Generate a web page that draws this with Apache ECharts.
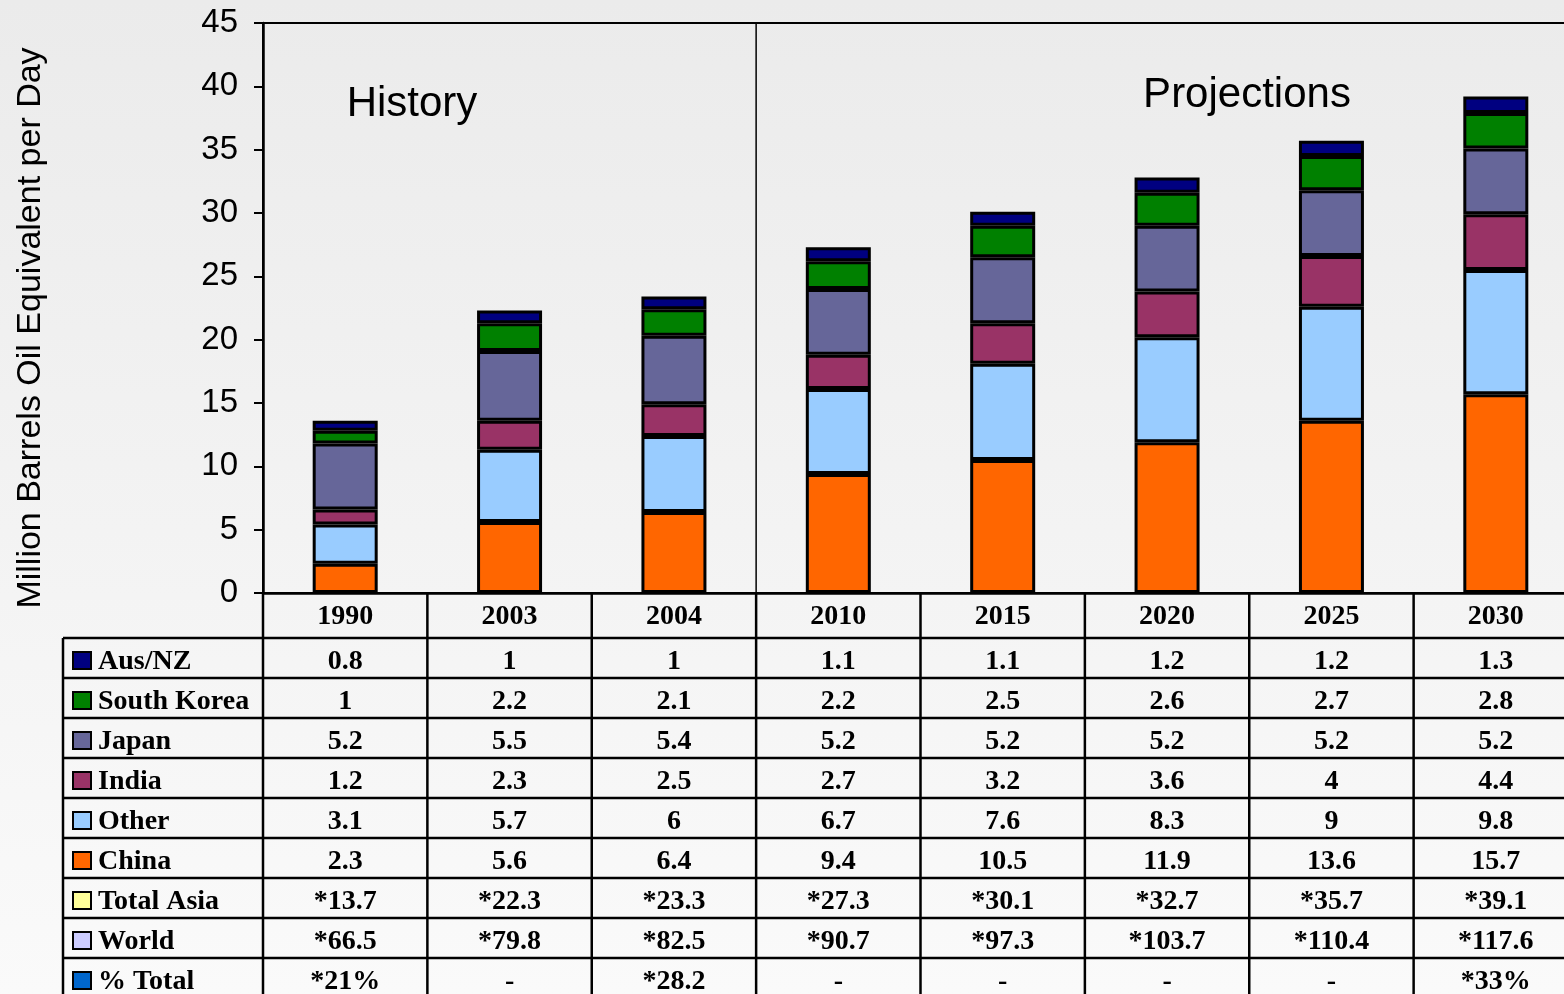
<!DOCTYPE html>
<html>
<head>
<meta charset="utf-8">
<script src="https://cdn.jsdelivr.net/npm/echarts@6/dist/echarts.min.js"></script>
<style>
  html, body { margin: 0; padding: 0; }
  #chart { width: 1564px; height: 994px; }
</style>
</head>
<body>
<div id="chart"></div>
<script>
// categories
const years = ['1990', '2003', '2004', '2010', '2015', '2020', '2025', '2030']

// stacked series (million barrels oil equivalent per day)
const ausNz = [0.8, 1, 1, 1.1, 1.1, 1.2, 1.2, 1.3]
const southKorea = [1, 2.2, 2.1, 2.2, 2.5, 2.6, 2.7, 2.8]
const japan = [5.2, 5.5, 5.4, 5.2, 5.2, 5.2, 5.2, 5.2]
const india = [1.2, 2.3, 2.5, 2.7, 3.2, 3.6, 4, 4.4]
const other = [3.1, 5.7, 6, 6.7, 7.6, 8.3, 9, 9.8]
const china = [2.3, 5.6, 6.4, 9.4, 10.5, 11.9, 13.6, 15.7]

// table-only rows
const totalAsia = ['*13.7', '*22.3', '*23.3', '*27.3', '*30.1', '*32.7', '*35.7', '*39.1']
const world = ['*66.5', '*79.8', '*82.5', '*90.7', '*97.3', '*103.7', '*110.4', '*117.6']
const pctTotal = ['*21%', '-', '*28.2', '-', '-', '-', '-', '*33%']

const yTicks = { min: 0, max: 45, interval: 5 }

// table rows top to bottom
const tableRows = [
  { name: 'Aus/NZ', color: '#000080', values: ausNz },
  { name: 'South Korea', color: '#008000', values: southKorea },
  { name: 'Japan', color: '#666699', values: japan },
  { name: 'India', color: '#993366', values: india },
  { name: 'Other', color: '#99CCFF', values: other },
  { name: 'China', color: '#FF6600', values: china },
  { name: 'Total Asia', color: '#FFFF99', values: totalAsia },
  { name: 'World', color: '#CCCCFF', values: world },
  { name: '% Total', color: '#0066CC', values: pctTotal }
]

// bar stack order, bottom first
const stackSeries = [
  { name: 'China', data: china, color: '#FF6600' },
  { name: 'Other', data: other, color: '#99CCFF' },
  { name: 'India', data: india, color: '#993366' },
  { name: 'Japan', data: japan, color: '#666699' },
  { name: 'South Korea', data: southKorea, color: '#008000' },
  { name: 'Aus/NZ', data: ausNz, color: '#000080' }
]

const serif = '"Liberation Serif", "Times New Roman", serif'
const sans = '"Liberation Sans", Arial, sans-serif'

const chart = echarts.init(document.getElementById('chart'))

chart.setOption({
  animation: false,
  backgroundColor: new echarts.graphic.LinearGradient(0, 0, 0, 1, [
    { offset: 0, color: '#ebebeb' },
    { offset: 1, color: '#fafafa' }
  ]),
  grid: {
    left: 263,
    top: 23,
    width: 1315,
    height: 570,
    outerBoundsMode: 'none',
    containLabel: false,
    show: true,
    borderColor: '#000',
    borderWidth: 2,
    backgroundColor: 'transparent'
  },
  xAxis: {
    type: 'category',
    data: years,
    axisLine: { lineStyle: { color: '#000', width: 2.5 } },
    axisTick: { show: false },
    axisLabel: {
      margin: 10,
      color: '#000',
      fontFamily: serif,
      fontWeight: 'bold',
      fontSize: 28
    }
  },
  yAxis: {
    type: 'value',
    min: yTicks.min,
    max: yTicks.max,
    interval: yTicks.interval,
    splitLine: { show: false },
    axisLine: { show: true, lineStyle: { color: '#000', width: 2.5 } },
    axisTick: { show: true, length: 9, lineStyle: { color: '#000', width: 2 } },
    axisLabel: {
      margin: 25,
      color: '#000',
      fontFamily: sans,
      fontSize: 33
    }
  },
  series: stackSeries.map((s) => ({
    name: s.name,
    type: 'bar',
    stack: 'asia',
    barWidth: 65,
    data: s.data,
    itemStyle: { color: s.color, borderColor: '#000', borderWidth: 3 }
  }))
})

// 表格和注释，按坐标轴位置摆放
function buildGraphics() {
  const c0 = chart.convertToPixel({ xAxisIndex: 0 }, 0)
  const c1 = chart.convertToPixel({ xAxisIndex: 0 }, 1)
  const band = c1 - c0
  const axisY = chart.convertToPixel({ yAxisIndex: 0 }, 0)
  const topY = chart.convertToPixel({ yAxisIndex: 0 }, yTicks.max)
  const gridLeft = c0 - band / 2
  const gridRight = gridLeft + band * years.length
  const tableTop = axisY + 45
  const rowH = 40
  const tableLeft = 63
  const tableBottom = tableTop + rowH * tableRows.length
  const lineStyle = { stroke: '#000', lineWidth: 2.5 }
  const els = []

  // horizontal rules
  for (let k = 0; k <= tableRows.length; k++) {
    const y = tableTop + k * rowH
    els.push({ type: 'line', shape: { x1: tableLeft, y1: y, x2: gridRight, y2: y }, style: lineStyle })
  }
  // left edge
  els.push({ type: 'line', shape: { x1: tableLeft, y1: tableTop, x2: tableLeft, y2: tableBottom }, style: lineStyle })
  // column rules
  for (let i = 0; i <= years.length; i++) {
    const x = gridLeft + i * band
    els.push({ type: 'line', shape: { x1: x, y1: axisY, x2: x, y2: tableBottom }, style: lineStyle })
  }
  // history / projections divider
  const divX = gridLeft + 3 * band
  els.push({ type: 'line', shape: { x1: divX, y1: topY, x2: divX, y2: axisY }, style: { stroke: '#000', lineWidth: 1.5 } })

  tableRows.forEach((row, k) => {
    const cy = tableTop + k * rowH + 24
    els.push({
      type: 'rect',
      shape: { x: 73, y: cy - 10, width: 18, height: 17 },
      style: { fill: row.color, stroke: '#000', lineWidth: 2 }
    })
    els.push({
      type: 'text',
      x: 98,
      y: cy,
      style: { text: row.name, font: 'bold 28px ' + serif, fill: '#000', align: 'left', verticalAlign: 'middle' }
    })
    row.values.forEach((v, i) => {
      els.push({
        type: 'text',
        x: chart.convertToPixel({ xAxisIndex: 0 }, i),
        y: cy,
        style: { text: String(v), font: 'bold 28px ' + serif, fill: '#000', align: 'center', verticalAlign: 'middle' }
      })
    })
  })

  // annotations
  els.push({
    type: 'text',
    x: 412,
    y: 104,
    style: { text: 'History', font: '42px ' + sans, fill: '#000', align: 'center', verticalAlign: 'middle' }
  })
  els.push({
    type: 'text',
    x: 1247,
    y: 95,
    style: { text: 'Projections', font: '42px ' + sans, fill: '#000', align: 'center', verticalAlign: 'middle' }
  })
  // y axis title
  els.push({
    type: 'text',
    x: 31,
    y: 328,
    rotation: Math.PI / 2,
    style: { text: 'Million Barrels Oil Equivalent per Day', font: '34px ' + sans, fill: '#000', align: 'center', verticalAlign: 'middle' }
  })

  chart.setOption({ graphic: { elements: els } })
}

buildGraphics()
</script>
</body>
</html>
